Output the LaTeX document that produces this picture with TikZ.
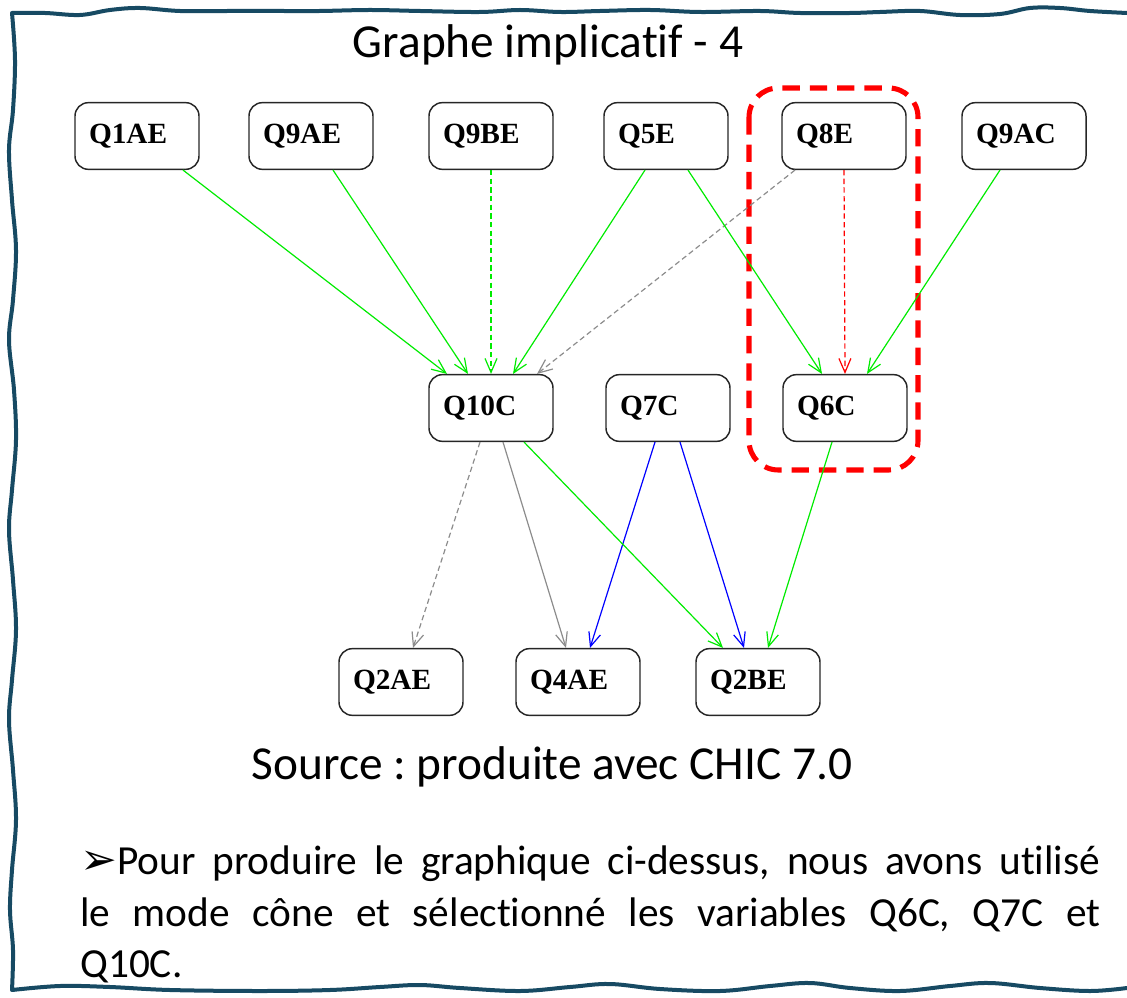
\documentclass[tikz,border=0pt]{standalone}
\usepackage{fontspec}
\setmainfont{Carlito}[Ligatures=NoCommon]
\newfontfamily\labelfont{Liberation Serif}
\newfontfamily\symbfont{DejaVu Sans}
\usepackage{tikz}
\usetikzlibrary{calc}
\usetikzlibrary{arrows.meta}
\frenchspacing
\definecolor{framecol}{HTML}{174A63}
\definecolor{implgreen}{RGB}{0,235,0}
\definecolor{implgray}{RGB}{140,140,140}
\definecolor{implblue}{RGB}{0,0,255}
\definecolor{implred}{RGB}{255,0,0}
\tikzstyle{qnode} = [rectangle, 
rounded corners=10pt, 
minimum height=50pt, 
text width=72pt, 
inner xsep=10.5pt, 
align=left, 
draw=black!85, 
line width=1.1pt, 
font=\labelfont\bfseries\fontsize{22}{22}\selectfont]
\tikzstyle{arrow} = [line width=0.9pt,-{Straight Barb[length=10.5pt,width=9pt]}]
\tikzstyle{dashedarrow} = [arrow, dash pattern=on 4pt off 2.5pt]

\begin{document}
\begin{tikzpicture}[x=0.75pt, y=-0.75pt]
    \useasboundingbox (0,0) rectangle (1127,998);

    % wavy frame
    \draw [framecol, line width=3pt, line cap=round, line join=round]
      plot [smooth, tension=0.6] coordinates {(1127,13) (1090,11) (1060,8) (1030,8) (1000,14) (960,15) (920,11) (880,12) (850,13) (800,13) (760,11) (700,12) (650,10) (600,11) (560,12) (520,10) (480,12) (420,11) (370,10) (320,11) (280,11) (230,11) (180,11) (140,8) (110,10) (80,15) (45,13) (12,13)}
      -- plot [smooth, tension=0.6] coordinates {(12,13) (15,60) (13,110) (9,150) (12,200) (16,250) (13,300) (9,340) (14,390) (16,440) (12,490) (9,530) (13,580) (16,630) (12,680) (9,720) (13,770) (16,820) (12,870) (10,910) (13,950) (12,990)}
      -- plot [smooth, tension=0.6] coordinates {(12,990) (60,986) (110,987) (170,990) (260,991) (330,990) (380,987) (420,985) (460,988) (520,991) (570,987) (610,984) (660,989) (720,991) (770,986) (810,983) (850,988) (900,991) (950,986) (990,983) (1040,988) (1090,991) (1127,988)};

    \node (title) at (548,45) {\fontsize{35.5}{42}\selectfont Graphe implicatif - 4};

    % top row
    \node (q1ae) [qnode] at (137,136) {Q1AE};
    \node (q9ae) [qnode] at (311,136) {Q9AE};
    \node (q9be) [qnode] at (491,136) {Q9BE};
    \node (q5e) [qnode] at (666,136) {Q5E};
    \node (q8e) [qnode] at (844,136) {Q8E};
    \node (q9ac) [qnode] at (1024,136) {Q9AC};

    % middle row
    \node (q10c) [qnode] at (491,408) {Q10C};
    \node (q7c) [qnode] at (668,408) {Q7C};
    \node (q6c) [qnode] at (845,408) {Q6C};

    % bottom row
    \node (q2ae) [qnode] at (401,682) {Q2AE};
    \node (q4ae) [qnode] at (578,682) {Q4AE};
    \node (q2be) [qnode] at (758,682) {Q2BE};

    % selected cone
    \draw [implred, line width=3.8pt, dash pattern=on 13pt off 7.5pt, rounded corners=22pt] (749,88) rectangle (918,470);

    % arcs into Q10C
    \draw [arrow, implgreen] ($(q1ae.south)+(46,0)$) -- ($(q10c.north)+(-44,0)$);
    \draw [arrow, implgreen] ($(q9ae.south)+(22,0)$) -- ($(q10c.north)+(-23,0)$);
    \draw [dashedarrow, implgreen] (q9be.south) -- (q10c.north);
    \draw [arrow, implgreen] ($(q5e.south)+(-21,0)$) -- ($(q10c.north)+(22,0)$);
    \draw [dashedarrow, implgray] ($(q8e.south)+(-49,0)$) -- ($(q10c.north)+(46,0)$);

    % arcs into Q6C
    \draw [arrow, implgreen] ($(q5e.south)+(22,0)$) -- ($(q6c.north)+(-23,0)$);
    \draw [dashedarrow, implred] (q8e.south) -- (q6c.north);
    \draw [arrow, implgreen] ($(q9ac.south)+(-24,0)$) -- ($(q6c.north)+(22,0)$);

    % arcs into the bottom row
    \draw [dashedarrow, implgray] ($(q10c.south)+(-11,0)$) -- ($(q2ae.north)+(12,0)$);
    \draw [arrow, implgray] ($(q10c.south)+(12,0)$) -- ($(q4ae.north)+(-12,0)$);
    \draw [arrow, implblue] ($(q7c.south)+(-13,0)$) -- ($(q4ae.north)+(12,0)$);
    \draw [arrow, implgreen] ($(q10c.south)+(33,0)$) -- ($(q2be.north)+(-35,0)$);
    \draw [arrow, implblue] ($(q7c.south)+(12,0)$) -- ($(q2be.north)+(-14,0)$);
    \draw [arrow, implgreen] ($(q6c.south)+(-13,0)$) -- ($(q2be.north)+(10,0)$);

    \node (source) at (552,767) {\fontsize{35.5}{42}\selectfont Source : produite avec CHIC 7.0};

    \node (remark) [anchor=north west, inner sep=0pt, text width=765pt, align=justify, font=\fontsize{31}{38.5}\selectfont] at (80,846)
      {{\symbfont\fontsize{33}{38.5}\selectfont ➢}Pour produire le graphique ci-dessus, nous avons utilisé\linebreak
       le mode cône et sélectionné les variables Q6C, Q7C et\linebreak
       Q10C.};
\end{tikzpicture}
\end{document}
